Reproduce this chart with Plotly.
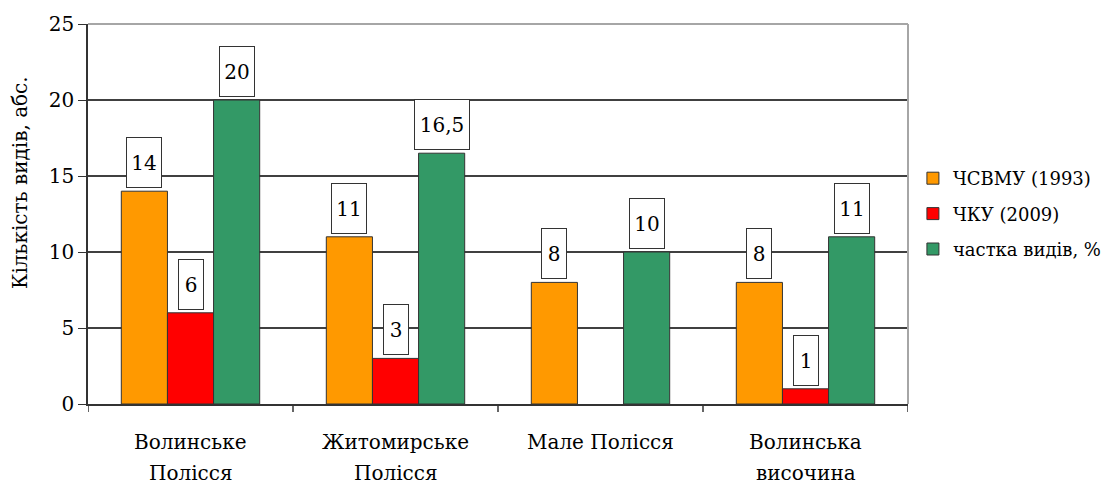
import plotly.graph_objects as go

categories = ["Волинське<br>Полісся", "Житомирське<br>Полісся", "Мале Полісся", "Волинська<br>височина"]
series_names = ["ЧСВМУ (1993)", "ЧКУ (2009)", "частка видів, %"]
chsvmu = [14, 11, 8, 8]
cku = [6, 3, None, 1]
share = [20, 16.5, 10, 11]
y_ticks = [0, 5, 10, 15, 20, 25]

colors = ["#FF9900", "#FF0000", "#339966"]
FONT = "DejaVu Serif"
FS = 20

# page body offset in the browser
OFF = 8
L, T, W, H = 88 - OFF, 24 - OFF, 820, 380
R = 1120 - L - W
B = 486 - T - H

bar_w = 0.225
offsets = [-1.5 * bar_w, -0.5 * bar_w, 0.5 * bar_w]
all_series = [chsvmu, cku, share]

fig = go.Figure()
idx = list(range(len(categories)))
for name, vals, col, off in zip(series_names, all_series, colors, offsets):
    fig.add_trace(go.Bar(
        x=idx, y=vals, name=name, width=bar_w, offset=off, legendgroup=name,
        marker=dict(color=col, line=dict(color="#333333", width=1)),
    ))

def fmt(v):
    return ("%g" % v).replace(".", ",")

annotations = []
for vals, off in zip(all_series, offsets):
    for i, v in enumerate(vals):
        if v is None:
            continue
        t = fmt(v)
        annotations.append(dict(
            x=i + off + bar_w / 2, y=v, xref="x", yref="y",
            text=t, showarrow=False, yanchor="bottom", yshift=3,
            width=len(t) * 10 + 12, height=47,
            bgcolor="white", bordercolor="#333333", borderwidth=1, borderpad=1,
            font=dict(family=FONT, size=FS, color="black"),
        ))

# category labels (two lines with wider spacing)
for i, c in enumerate(categories):
    for k, line in enumerate(c.split("<br>")):
        annotations.append(dict(
            x=i, y=0, xref="x", yref="paper", text=line, showarrow=False,
            xanchor="center", yanchor="middle", yshift=-(38 + 31 * k),
            font=dict(family=FONT, size=FS, color="black"),
        ))

annotations.append(dict(
    x=(20 - 88) / W, y=(404 - 183) / H, xref="paper", yref="paper",
    text="Кількість видів, абс.", showarrow=False, textangle=-90,
    xanchor="center", yanchor="middle",
    font=dict(family=FONT, size=20, color="black"),
))

fig.update_layout(
    width=1120, height=486,
    margin=dict(l=L, r=R, t=T, b=B, autoexpand=False),
    paper_bgcolor="white", plot_bgcolor="white",
    font=dict(family=FONT, size=FS, color="black"),
    showlegend=True,
    legend=dict(x=1.006, y=0.50, xanchor="left", yanchor="middle",
                font=dict(family=FONT, size=18), itemwidth=30,
                tracegroupgap=9, bgcolor="rgba(0,0,0,0)"),
    annotations=annotations,
)
fig.update_xaxes(
    range=[-0.5, 3.5], tickmode="array", tickvals=idx, ticktext=["" for _ in idx],
    showgrid=False, showline=True, linecolor="#333333", linewidth=1.5,
    ticks="", zeroline=False,
)
fig.update_yaxes(
    range=[0, 25], tickvals=y_ticks, showgrid=True, gridcolor="#404040", gridwidth=1.5,
    showline=True, linecolor="#333333", linewidth=1.5, ticks="outside", ticklen=8,
    tickcolor="#333333", zeroline=False, tickfont=dict(family=FONT, size=FS),
)
# category boundary ticks on the x axis
for b in [-0.5, 0.5, 1.5, 2.5, 3.5]:
    fig.add_shape(type="line", xref="x", yref="paper", x0=b, x1=b, y0=0, y1=-8 / H,
                  line=dict(color="#333333", width=1.5))
# plot-area border top and right (gray)
fig.add_shape(type="line", xref="paper", yref="paper", x0=0, x1=1, y0=1, y1=1,
              line=dict(color="#A6A6A6", width=2), layer="above")
fig.add_shape(type="line", xref="paper", yref="paper", x0=1, x1=1, y0=0, y1=1,
              line=dict(color="#A6A6A6", width=2), layer="above")

fig.write_html("out.html")
